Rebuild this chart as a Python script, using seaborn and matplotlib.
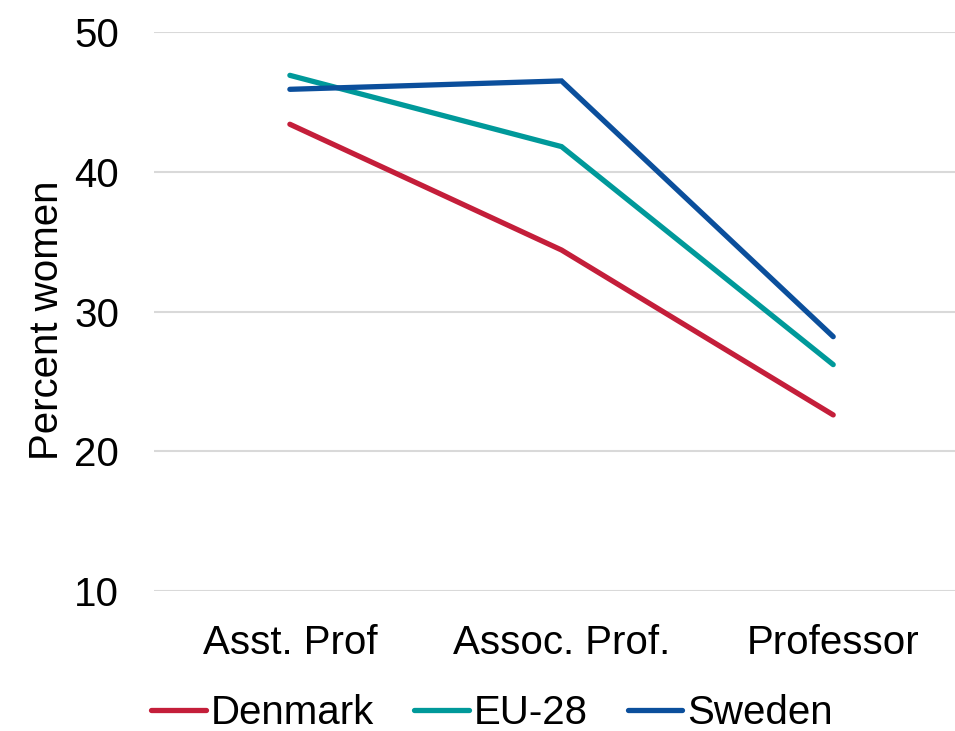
import pandas as pd
import matplotlib
matplotlib.use("Agg")
import matplotlib.pyplot as plt
import seaborn as sns

# Data
ranks = ["Asst. Prof", "Assoc. Prof.", "Professor"]
denmark = [43.4, 34.4, 22.6]
eu28 = [46.9, 41.8, 26.2]
sweden = [45.9, 46.5, 28.2]

countries = ["Denmark", "EU-28", "Sweden"]
colors = ["#C41E3A", "#00999A", "#0B4F9C"]

rows = []
for country, values in zip(countries, [denmark, eu28, sweden]):
    for rank, v in zip(ranks, values):
        rows.append({"Rank": rank, "Country": country, "Percent women": v})
df = pd.DataFrame(rows)

sns.set_style("white")
plt.rcParams["font.family"] = ["Liberation Sans", "DejaVu Sans"]
plt.rcParams["text.color"] = "black"
plt.rcParams["axes.labelcolor"] = "black"

fig = plt.figure(figsize=(9.55, 7.31), dpi=100)
ax = fig.add_axes([0.1613, 0.1915, 0.8534, 0.7647])

sns.lineplot(data=df, x="Rank", y="Percent women", hue="Country",
             palette=dict(zip(countries, colors)), sort=False,
             linewidth=3.8, ax=ax, legend=True)
for line in ax.get_lines():
    line.set_solid_capstyle("round")
    line.set_solid_joinstyle("miter")

ax.set_xlim(-0.5, 2.5)
ax.set_ylim(10, 50)
ax.set_yticks([10, 20, 30, 40, 50])
ax.yaxis.grid(True, color="#D9D9D9", linewidth=1.5)
ax.set_axisbelow(True)
for s in ax.spines.values():
    s.set_visible(False)
ax.tick_params(axis="both", length=0, labelsize=29, colors="black")
ax.tick_params(axis="x", pad=24)
ax.tick_params(axis="y", pad=25)
ax.set_xlabel("")
ax.set_ylabel("Percent women", fontsize=29, labelpad=6, y=0.484)

handles, labels = ax.get_legend_handles_labels()
ax.legend(handles, labels, loc="center", bbox_to_anchor=(492 / 955, 1 - 713 / 731),
          bbox_transform=fig.transFigure,
          ncol=3, frameon=False, fontsize=29, handlelength=1.35,
          handletextpad=0.12, columnspacing=1.0, borderaxespad=0, borderpad=0)

fig.savefig("out.png", dpi=100)
